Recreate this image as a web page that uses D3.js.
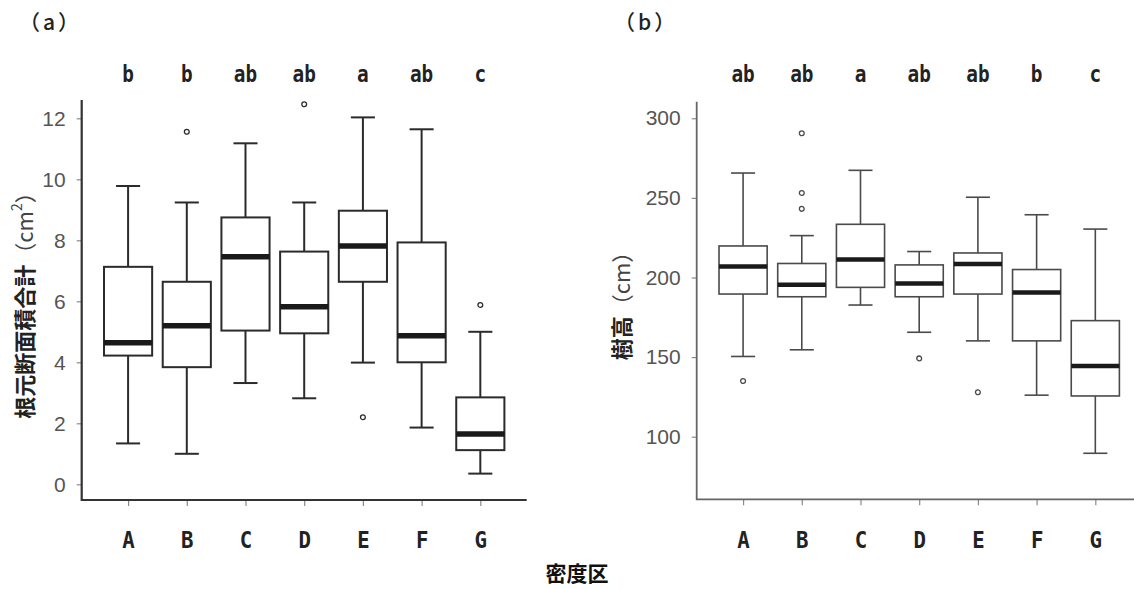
<!DOCTYPE html>
<html lang="ja">
<head>
<meta charset="UTF-8">
<title>密度区別の根元断面積合計と樹高</title>
<script src="https://d3js.org/d3.v7.min.js"></script>
<style>
  body { margin: 0; background: #fff; }
  .tick text { font-family: "Liberation Sans", Arial, sans-serif; }
</style>
</head>
<body>
<script>
// categories and significance letters
const groups = ["A", "B", "C", "D", "E", "F", "G"];
const lettersA = ["b", "b", "ab", "ab", "a", "ab", "c"];
const lettersB = ["ab", "ab", "a", "ab", "ab", "b", "c"];

// (a) basal area total (cm2): whisker low, Q1, median, Q3, whisker high, outliers
const basalLow  = [1.34, 1.00, 3.32, 2.82, 3.99, 1.86, 0.35];
const basalQ1   = [4.22, 3.84, 5.04, 4.95, 6.64, 4.00, 1.12];
const basalMed  = [4.64, 5.20, 7.46, 5.82, 7.81, 4.87, 1.65];
const basalQ3   = [7.13, 6.64, 8.75, 7.63, 8.97, 7.93, 2.85];
const basalHigh = [9.78, 9.24, 11.18, 9.24, 12.03, 11.64, 5.00];
const basalOut  = [[], [11.56], [], [12.46], [2.20], [], [5.88]];
const basalTicks = [0, 2, 4, 6, 8, 10, 12];

// (b) tree height (cm)
const heightLow  = [150.4, 154.6, 182.7, 165.6, 160.2, 126.1, 89.6];
const heightQ1   = [189.6, 187.9, 193.8, 187.9, 189.6, 160.2, 125.6];
const heightMed  = [206.9, 195.4, 211.3, 196.2, 208.4, 190.6, 144.4];
const heightQ3   = [219.8, 208.8, 233.4, 207.9, 215.4, 205.0, 172.9];
const heightHigh = [265.6, 226.3, 267.3, 216.3, 250.4, 239.4, 230.4];
const heightOut  = [[135.0], [290.6, 253.1, 243.1], [], [149.2], [127.9], [], []];
const heightTicks = [100, 150, 200, 250, 300];

const svg = d3.select("body").append("svg")
    .attr("width", 1134)
    .attr("height", 589);

const monoFont = "'DejaVu Sans Mono', monospace";
const cjkFont = "'Noto Sans CJK JP', sans-serif";

function drawPanel(p) {
    const g = svg.append("g");

    const x = d3.scalePoint()
        .domain(groups)
        .range([p.left, p.right])
        .padding(0.79);

    const y = d3.scaleLinear()
        .domain(p.domain)
        .range([p.bottom, p.top]);

    const boxW = x.step() * 0.82;

    const stats = groups.map((k, i) => ({
        key: k, lo: p.low[i], q1: p.q1[i], med: p.med[i], q3: p.q3[i], hi: p.high[i], out: p.out[i]
    }));

    // y axis
    const ya = g.append("g")
        .attr("transform", `translate(${p.left},0)`)
        .call(d3.axisLeft(y).tickValues(p.ticks).tickSize(5).tickSizeOuter(0).tickPadding(11));
    ya.select(".domain").remove();
    ya.selectAll(".tick line").attr("stroke", "#8a8a8a").attr("stroke-width", 1.2);
    ya.selectAll(".tick text")
        .attr("fill", "#555")
        .style("font-size", "21px");

    // x axis
    const xa = g.append("g")
        .attr("transform", `translate(0,${p.bottom})`)
        .call(d3.axisBottom(x).tickSize(6).tickSizeOuter(0).tickPadding(26));
    xa.select(".domain").remove();
    xa.selectAll(".tick line").attr("stroke", "#8a8a8a").attr("stroke-width", 1.2);
    xa.selectAll(".tick text")
        .attr("fill", "#222")
        .style("font-family", monoFont)
        .style("font-weight", "bold")
        .style("font-size", "23px")
        .attr("transform", "scale(0.9,1)");

    // axis lines
    g.append("path")
        .attr("d", `M${p.left},${p.top}V${p.bottom}H${p.right}`)
        .attr("fill", "none")
        .attr("stroke", p.axisColor)
        .attr("stroke-width", p.axisWidth);

    // boxes
    const b = g.selectAll(".box").data(stats).enter().append("g")
        .attr("class", "box")
        .attr("transform", d => `translate(${x(d.key)},0)`);

    b.append("line")
        .attr("y1", d => y(d.hi)).attr("y2", d => y(d.q3))
        .attr("stroke", p.lineColor).attr("stroke-width", p.lineWidth);
    b.append("line")
        .attr("y1", d => y(d.q1)).attr("y2", d => y(d.lo))
        .attr("stroke", p.lineColor).attr("stroke-width", p.lineWidth);
    b.append("line")
        .attr("x1", -boxW / 4).attr("x2", boxW / 4)
        .attr("y1", d => y(d.hi)).attr("y2", d => y(d.hi))
        .attr("stroke", p.lineColor).attr("stroke-width", p.lineWidth);
    b.append("line")
        .attr("x1", -boxW / 4).attr("x2", boxW / 4)
        .attr("y1", d => y(d.lo)).attr("y2", d => y(d.lo))
        .attr("stroke", p.lineColor).attr("stroke-width", p.lineWidth);
    b.append("rect")
        .attr("x", -boxW / 2).attr("width", boxW)
        .attr("y", d => y(d.q3)).attr("height", d => y(d.q1) - y(d.q3))
        .attr("fill", "#fff")
        .attr("stroke", p.lineColor).attr("stroke-width", p.lineWidth);
    b.append("line")
        .attr("x1", -boxW / 2).attr("x2", boxW / 2)
        .attr("y1", d => y(d.med)).attr("y2", d => y(d.med))
        .attr("stroke", "#1a1a1a").attr("stroke-width", p.medWidth);
    b.selectAll("circle").data(d => d.out).enter().append("circle")
        .attr("cy", v => y(v))
        .attr("r", 2.4)
        .attr("fill", "none")
        .attr("stroke", p.lineColor).attr("stroke-width", 1.3);

    // significance letters (narrow, like a half-width gothic)
    g.selectAll(".sig").data(p.letters).enter().append("text")
        .attr("class", "sig")
        .attr("transform", (d, i) => `translate(${x(groups[i])},82) scale(0.88,1.05)`)
        .attr("text-anchor", "middle")
        .style("font-family", monoFont)
        .style("font-weight", "bold")
        .style("font-size", "22px")
        .attr("fill", "#222")
        .text(d => d);

    // panel tag
    g.append("text")
        .attr("x", p.tagX)
        .attr("y", 30)
        .style("font-family", cjkFont)
        .style("font-weight", "500")
        .style("font-size", "21px")
        .style("letter-spacing", "3px")
        .attr("fill", "#222")
        .text(p.tag);

    // y title
    const t = g.append("text")
        .attr("transform", `translate(${p.titleX},${(p.top + p.bottom) / 2}) rotate(-90)`)
        .attr("text-anchor", "middle")
        .attr("dominant-baseline", "central")
        .style("font-family", cjkFont)
        .style("font-size", "22px")
        .attr("fill", "#222");
    t.append("tspan").style("font-weight", "bold").text(p.title);
    t.append("tspan").attr("fill", "#444").text("（" + p.unit);
    if (p.sup) {
        t.append("tspan").attr("fill", "#444").style("font-size", "14px").attr("dy", "-0.5em").text(p.sup);
        t.append("tspan").attr("fill", "#444").attr("dy", "0.32em").text("）");
    } else {
        t.append("tspan").attr("fill", "#444").text("）");
    }
}

drawPanel({
    left: 81.7, right: 526.7, top: 100, bottom: 500,
    domain: [-0.515, 12.6], ticks: basalTicks,
    low: basalLow, q1: basalQ1, med: basalMed, q3: basalQ3, high: basalHigh, out: basalOut,
    letters: lettersA, tag: "（a）", tagX: 19,
    title: "根元断面積合計", unit: "cm", sup: "2", titleX: 23,
    axisColor: "#333", axisWidth: 2.2, lineColor: "#2b2b2b", lineWidth: 2, medWidth: 5.5
});

drawPanel({
    left: 696.7, right: 1141.7, top: 101.7, bottom: 499.3,
    domain: [60.7, 310.4], ticks: heightTicks,
    low: heightLow, q1: heightQ1, med: heightMed, q3: heightQ3, high: heightHigh, out: heightOut,
    letters: lettersB, tag: "（b）", tagX: 614,
    title: "樹高", unit: "cm", sup: null, titleX: 620,
    axisColor: "#666", axisWidth: 1.8, lineColor: "#4a4a4a", lineWidth: 1.6, medWidth: 4.5
});

// shared x title
svg.append("text")
    .attr("x", 577)
    .attr("y", 581)
    .attr("text-anchor", "middle")
    .style("font-family", cjkFont)
    .style("font-weight", "bold")
    .style("font-size", "21px")
    .attr("fill", "#111")
    .text("密度区");
</script>
</body>
</html>
